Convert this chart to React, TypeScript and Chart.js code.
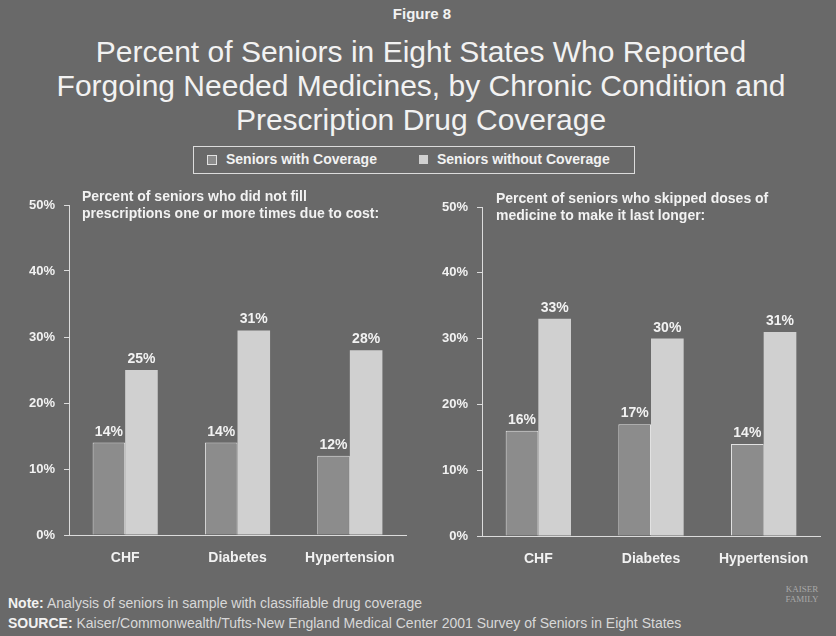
import React, { useEffect, useRef } from "react";
import { Chart, registerables } from "chart.js";

Chart.register(...registerables);

// ---------- data ----------
const categories = ["CHF", "Diabetes", "Hypertension"];
const seriesLabels = ["Seniors with Coverage", "Seniors without Coverage"];
const notFillWithCoverage = [14, 14, 12];
const notFillWithoutCoverage = [25, 31, 28];
const skippedWithCoverage = [16, 17, 14];
const skippedWithoutCoverage = [33, 30, 31];
const yTickValues = [0, 10, 20, 30, 40, 50];

const figureLabel = "Figure 8";
const titleLines = [
  "Percent of Seniors in Eight States Who Reported",
  "Forgoing Needed Medicines, by Chronic Condition and",
  "Prescription Drug Coverage",
];
const leftSubtitle = ["Percent of seniors who did not fill", "prescriptions one or more times due to cost:"];
const rightSubtitle = ["Percent of seniors who skipped doses of", "medicine to make it last longer:"];
const noteText = "Analysis of seniors in sample with classifiable drug coverage";
const sourceText = "Kaiser/Commonwealth/Tufts-New England Medical Center 2001 Survey of Seniors in Eight States";

// ---------- style ----------
const FONT = "'Liberation Sans', Arial, Helvetica, sans-serif";
const BG = "#696969";
const TEXT = "#f2f2f2";
const AXIS = "#dcdcdc";
const WITH_FILL = "#8c8c8c";
const WITH_BORDER = "#e2e2e2";
const WITHOUT_FILL = "#d0d0d0";

const valueLabels = {
  id: "valueLabels",
  afterDatasetsDraw(chart: any) {
    const { ctx } = chart;
    ctx.save();
    ctx.font = `bold 14px ${FONT}`;
    ctx.fillStyle = TEXT;
    ctx.textAlign = "center";
    ctx.textBaseline = "alphabetic";
    chart.data.datasets.forEach((ds: any, i: number) => {
      const meta = chart.getDatasetMeta(i);
      meta.data.forEach((el: any, j: number) => {
        ctx.fillText(`${ds.data[j]}%`, el.x, el.y - 7);
      });
    });
    ctx.restore();
  },
};

type PanelProps = {
  withCov: number[];
  withoutCov: number[];
  x: number;
  y: number;
  w: number;
  h: number;
  plotLeft: number;
  plotRight: number;
  plotTop: number;
  plotBottom: number;
};

function BarPanel(p: PanelProps) {
  const ref = useRef<HTMLCanvasElement | null>(null);
  useEffect(() => {
    if (!ref.current) return;
    const chart = new Chart(ref.current, {
      type: "bar",
      data: {
        labels: categories,
        datasets: [
          {
            label: seriesLabels[0],
            data: p.withCov,
            backgroundColor: WITH_FILL,
            borderColor: WITH_BORDER,
            borderWidth: 1,
            borderSkipped: "bottom",
            categoryPercentage: 0.58,
            barPercentage: 1,
          },
          {
            label: seriesLabels[1],
            data: p.withoutCov,
            backgroundColor: WITHOUT_FILL,
            borderWidth: 0,
            categoryPercentage: 0.58,
            barPercentage: 1,
          },
        ],
      },
      options: {
        responsive: false,
        animation: false,
        devicePixelRatio: 1,
        layout: { padding: { left: 0, top: p.plotTop, right: p.w - p.plotRight, bottom: 0 } },
        plugins: {
          legend: { display: false },
          tooltip: { enabled: false },
          title: { display: false },
        },
        scales: {
          x: {
            grid: { display: false },
            border: { display: true, color: AXIS, width: 1 },
            ticks: {
              color: TEXT,
              font: { family: FONT, size: 14, weight: "bold" },
              padding: 7,
              maxRotation: 0,
            },
            afterFit: (s: any) => {
              s.height = p.h - p.plotBottom;
            },
          },
          y: {
            min: 0,
            max: 50,
            afterBuildTicks: (s: any) => {
              s.ticks = yTickValues.map((v) => ({ value: v }));
            },
            grid: { display: true, drawOnChartArea: false, drawTicks: true, tickLength: 5, color: AXIS },
            border: { display: true, color: AXIS, width: 1 },
            ticks: {
              color: TEXT,
              font: { family: FONT, size: 13, weight: "bold" },
              padding: 9,
              callback: (v: any) => `${v}%`,
            },
            afterFit: (s: any) => {
              s.width = p.plotLeft;
            },
          },
        },
      } as any,
      plugins: [valueLabels],
    });
    return () => chart.destroy();
  }, []);
  return (
    <canvas
      ref={ref}
      width={p.w}
      height={p.h}
      style={{ position: "absolute", left: p.x, top: p.y, width: p.w, height: p.h }}
    />
  );
}

const abs = (extra: React.CSSProperties): React.CSSProperties => ({
  position: "absolute",
  fontFamily: FONT,
  color: TEXT,
  whiteSpace: "nowrap",
  ...extra,
});

export default function App() {
  return (
    <div
      style={{
        position: "absolute",
        left: 0,
        top: 0,
        width: 836,
        height: 636,
        background: BG,
        overflow: "hidden",
      }}
    >
      <div style={abs({ left: 0, top: 5, width: 844, textAlign: "center", fontSize: 15, fontWeight: "bold", lineHeight: "18px" })}>
        {figureLabel}
      </div>
      <div style={abs({ left: 0, top: 35, width: 842, textAlign: "center", fontSize: 30, lineHeight: "34px" })}>
        {titleLines.map((t) => (
          <div key={t}>{t}</div>
        ))}
      </div>

      {/* legend */}
      <div
        style={{
          position: "absolute",
          left: 193,
          top: 146,
          width: 440,
          height: 26,
          border: `1px solid ${AXIS}`,
        }}
      />
      <div style={{ position: "absolute", left: 207, top: 155, width: 8, height: 8, background: WITH_FILL, border: `1px solid ${WITH_BORDER}` }} />
      <div style={abs({ left: 226, top: 150, fontSize: 14, fontWeight: "bold", lineHeight: "18px" })}>{seriesLabels[0]}</div>
      <div style={{ position: "absolute", left: 419, top: 155, width: 9, height: 9, background: WITHOUT_FILL }} />
      <div style={abs({ left: 437, top: 150, fontSize: 14, fontWeight: "bold", lineHeight: "18px" })}>{seriesLabels[1]}</div>

      <BarPanel
        withCov={notFillWithCoverage}
        withoutCov={notFillWithoutCoverage}
        x={0}
        y={185}
        w={418}
        h={390}
        plotLeft={69}
        plotRight={406}
        plotTop={20}
        plotBottom={350}
      />
      <BarPanel
        withCov={skippedWithCoverage}
        withoutCov={skippedWithoutCoverage}
        x={418}
        y={185}
        w={418}
        h={390}
        plotLeft={64}
        plotRight={402}
        plotTop={22}
        plotBottom={351}
      />

      <div style={abs({ left: 82, top: 188, fontSize: 14, fontWeight: "bold", lineHeight: "17px" })}>
        {leftSubtitle.map((t) => (
          <div key={t}>{t}</div>
        ))}
      </div>
      <div style={abs({ left: 496, top: 190, fontSize: 14, fontWeight: "bold", lineHeight: "17px" })}>
        {rightSubtitle.map((t) => (
          <div key={t}>{t}</div>
        ))}
      </div>

      <div style={abs({ left: 8, top: 593, fontSize: 14, lineHeight: "20px", color: "#d8d8d8" })}>
        <div>
          <b style={{ color: TEXT }}>Note:</b> {noteText}
        </div>
        <div>
          <b style={{ color: TEXT }}>SOURCE:</b> {sourceText}
        </div>
      </div>
      <div
        style={abs({
          left: 782,
          top: 584,
          width: 40,
          textAlign: "center",
          fontFamily: "'Liberation Serif', serif",
          fontSize: 9,
          lineHeight: "10px",
          color: "#a8a8a8",
        })}
      >
        <div>KAISER</div>
        <div>FAMILY</div>
      </div>
    </div>
  );
}
